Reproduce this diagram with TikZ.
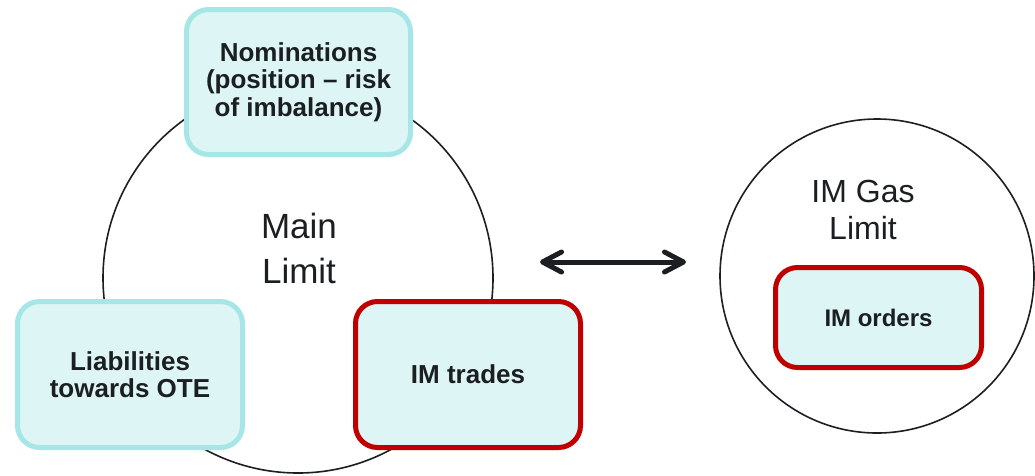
\documentclass[tikz,border=0pt]{standalone}
\usepackage{fontspec}
\setmainfont{Liberation Sans}
\usetikzlibrary{arrows.meta}
\definecolor{boxfill}{HTML}{DDF5F5}
\definecolor{boxline}{HTML}{A6E6E6}
\definecolor{imred}{HTML}{C00000}
\definecolor{ink}{HTML}{1B1F22}

\begin{document}
\begin{tikzpicture}[x=1pt, y=-1pt,
	limit/.style={circle, draw=ink, line width=1.6pt, inner sep=0pt},
	item/.style={rectangle, rounded corners=22pt, fill=boxfill, line width=5pt, text=ink, align=center,
		font=\fontsize{26}{27.5}\selectfont\bfseries},
	biglabel/.style={text=ink, align=center}]
	\useasboundingbox (0,0) rectangle (1035,475);

	\node at (298,278) [limit, minimum size=390pt] (main) {};
	\node at (877,276) [limit, minimum size=314pt] (gas) {};

	\node at (299,248) [biglabel, font=\fontsize{35}{45}\selectfont] (mainl) {Main\\Limit};
	\node at (863,210) [biglabel, font=\fontsize{32}{37}\selectfont] (gasl) {IM Gas\\Limit};

	\node at (298.5,82) [item, draw=boxline, minimum width=224pt, minimum height=145pt] (nom) {Nominations\\(position -- risk\\of imbalance)};
	\node at (130,374.5) [item, draw=boxline, minimum width=225pt, minimum height=146pt] (liab) {Liabilities\\towards OTE};
	\node at (468,374.5) [item, draw=imred, minimum width=225pt, minimum height=146pt] (trades) {IM trades};
	\node at (878.5,317.5) [item, draw=imred, minimum width=206pt, minimum height=100pt,
		font=\fontsize{24}{26}\selectfont\bfseries] (orders) {IM orders};

	\coordinate (al) at (540,262);
	\coordinate (ar) at (686,262);
	\draw [ink, line width=5pt, line cap=round,
		{Straight Barb[round, length=19pt, width=20pt]}-{Straight Barb[round, length=19pt, width=20pt]}] (al) -- (ar);

\end{tikzpicture}
\end{document}
